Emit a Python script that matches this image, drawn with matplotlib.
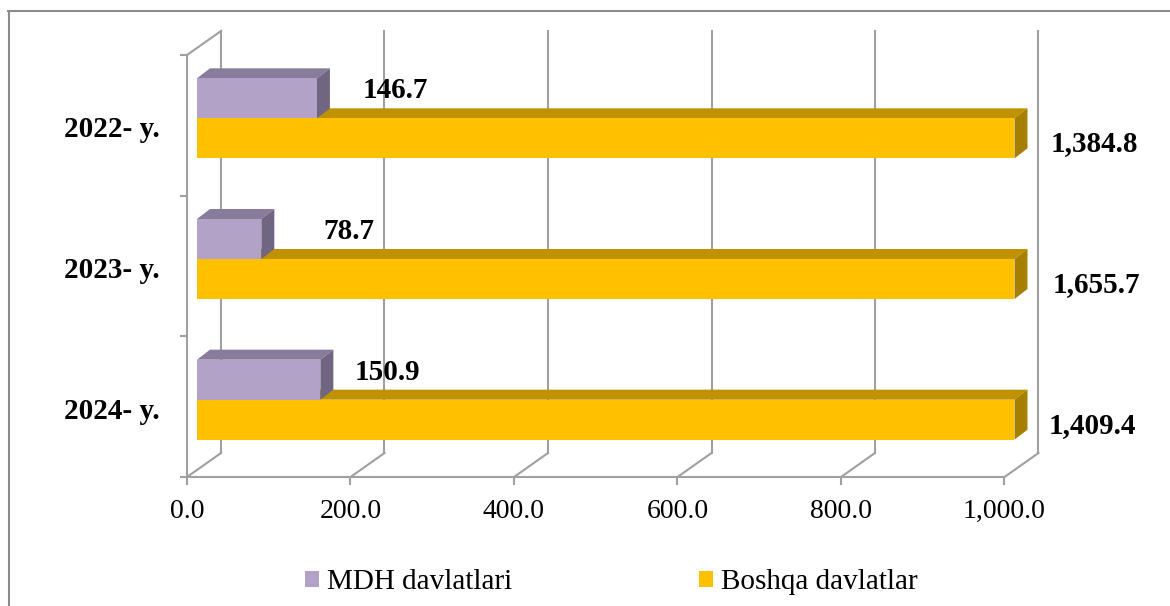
import numpy as np
import matplotlib
matplotlib.use("Agg")
import matplotlib.pyplot as plt
from matplotlib.patches import Polygon, Patch
from matplotlib.lines import Line2D
from matplotlib.ticker import FuncFormatter

# ---------------- data ----------------
categories = ["2022- y.", "2023- y.", "2024- y."]
mdh_values = [146.7, 78.7, 150.9]
boshqa_values = [1384.8, 1655.7, 1409.4]
series_names = ["MDH davlatlari", "Boshqa davlatlar"]
x_ticks = [0, 200, 400, 600, 800, 1000]

# ---------------- style ----------------
plt.rcParams['font.family'] = ['Liberation Serif', 'DejaVu Serif']
PURPLE = dict(front='#B3A2C7', top='#877C9B', side='#716681')
ORANGE = dict(front='#FFC000', top='#C09100', side='#A67E00')
GRID = '#A0A0A0'

W, H, DPI = 1170, 606, 100
fig = plt.figure(figsize=(W / DPI, H / DPI), dpi=DPI)
fig.patch.set_facecolor('white')

# front plane of the 3-D plot area (pixels)
L, R, T, B = 187, 1004.5, 55, 477
ax = fig.add_axes([L / W, 1 - B / H, (R - L) / W, (B - T) / H])
XMAX = x_ticks[-1]
n = len(categories)
ax.set_xlim(0, XMAX)
ax.set_ylim(-0.5, n - 0.5)
kx = XMAX / (R - L)   # data units per pixel (x)
ky = n / (B - T)      # data units per pixel (y)

ypos = np.arange(n)[::-1]          # first category at top
BAR_H = 40 * ky
WALL = (34 * kx, 24 * ky)          # depth of the chart box
BF = (10 * kx, 7 * ky)             # bar front-face depth
BB = (23 * kx, 17 * ky)            # bar back-face depth

# ---------------- walls / gridlines ----------------
y_lo, y_hi = -0.5, n - 0.5
for t in x_ticks:
    ax.add_line(Line2D([t, t + WALL[0]], [y_lo, y_lo + WALL[1]], color=GRID, lw=1.5,
                       clip_on=False, zorder=1))
    ax.add_line(Line2D([t + WALL[0], t + WALL[0]], [y_lo + WALL[1], y_hi + WALL[1]],
                       color=GRID, lw=1.5, clip_on=False, zorder=1))
ax.add_line(Line2D([0, WALL[0]], [y_hi, y_hi + WALL[1]], color=GRID, lw=1.5,
                   clip_on=False, zorder=1))

for s in ['top', 'right']:
    ax.spines[s].set_visible(False)
for s in ['left', 'bottom']:
    ax.spines[s].set_color(GRID)
    ax.spines[s].set_linewidth(1.5)
ax.set_facecolor('none')

ax.set_xticks(x_ticks)
ax.xaxis.set_major_formatter(FuncFormatter(lambda v, p: f"{v:,.1f}"))
ax.tick_params(axis='x', length=6, width=1.5, color=GRID, pad=9.5,
               labelsize=20, labelcolor='black')
ax.set_yticks(np.arange(-0.5, n, 1.0))
ax.set_yticklabels([])
ax.tick_params(axis='y', length=5, width=1.5, color=GRID)


# ---------------- 3-D bars ----------------
def bar3d(y_center, value, colors, z):
    x1 = min(value, XMAX)
    y0 = y_center - BAR_H / 2
    y1 = y_center + BAR_H / 2
    ax.barh([y0 + BAR_H / 2 + BF[1]], [x1], height=BAR_H, left=BF[0],
            color=colors['front'], linewidth=0, zorder=z, clip_on=False)
    top = [(BF[0], y1 + BF[1]), (BB[0], y1 + BB[1]),
           (x1 + BB[0], y1 + BB[1]), (x1 + BF[0], y1 + BF[1])]
    side = [(x1 + BF[0], y0 + BF[1]), (x1 + BF[0], y1 + BF[1]),
            (x1 + BB[0], y1 + BB[1]), (x1 + BB[0], y0 + BB[1])]
    ax.add_patch(Polygon(top, closed=True, facecolor=colors['top'], lw=0,
                         zorder=z - 0.1, clip_on=False))
    ax.add_patch(Polygon(side, closed=True, facecolor=colors['side'], lw=0,
                         zorder=z - 0.1, clip_on=False))


mdh_label_dx = [78, 88, 67]       # pixel offsets of labels from bar end
boshqa_label_dx = [80, 82, 78]

for i, yc in enumerate(ypos):
    z = 3 + (n - i)
    bar3d(yc - BAR_H / 2, boshqa_values[i], ORANGE, z)
    bar3d(yc + BAR_H / 2, mdh_values[i], PURPLE, z + 0.5)

    xb = min(boshqa_values[i], XMAX) + BF[0] + boshqa_label_dx[i] * kx
    ax.text(xb, yc - (16 + 10) * ky, f"{boshqa_values[i]:,.1f}", ha='center',
            va='baseline', fontsize=21, fontweight='bold', clip_on=False, zorder=10)
    xm = min(mdh_values[i], XMAX) + BF[0] + mdh_label_dx[i] * kx
    ax.text(xm, yc + (37 - 10) * ky, f"{mdh_values[i]:,.1f}", ha='center',
            va='baseline', fontsize=21, fontweight='bold', clip_on=False, zorder=10)

    ax.text(-27 * kx, yc - 12 * ky, categories[i], ha='right', va='baseline',
            fontsize=21, fontweight='bold', clip_on=False)

# ---------------- legend ----------------
handles = [Patch(facecolor=PURPLE['front'], edgecolor='none'),
           Patch(facecolor=ORANGE['front'], edgecolor='none')]
fig.legend(handles, series_names, loc='center', ncol=2, frameon=False,
           bbox_to_anchor=(611.5 / W, (H - 582) / H), fontsize=21,
           handlelength=0.48, handleheight=0.48, handletextpad=0.27,
           columnspacing=6.4, borderpad=0, borderaxespad=0)

# ---------------- outer frame ----------------
fig.add_artist(Line2D([8.5 / W, 8.5 / W], [0, (H - 11) / H], color='#8C8C8C', lw=1.5,
                      transform=fig.transFigure))
fig.add_artist(Line2D([8 / W, 1], [(H - 11) / H, (H - 11) / H], color='#8C8C8C', lw=1.5,
                      transform=fig.transFigure))

fig.savefig('out.png', dpi=DPI)
